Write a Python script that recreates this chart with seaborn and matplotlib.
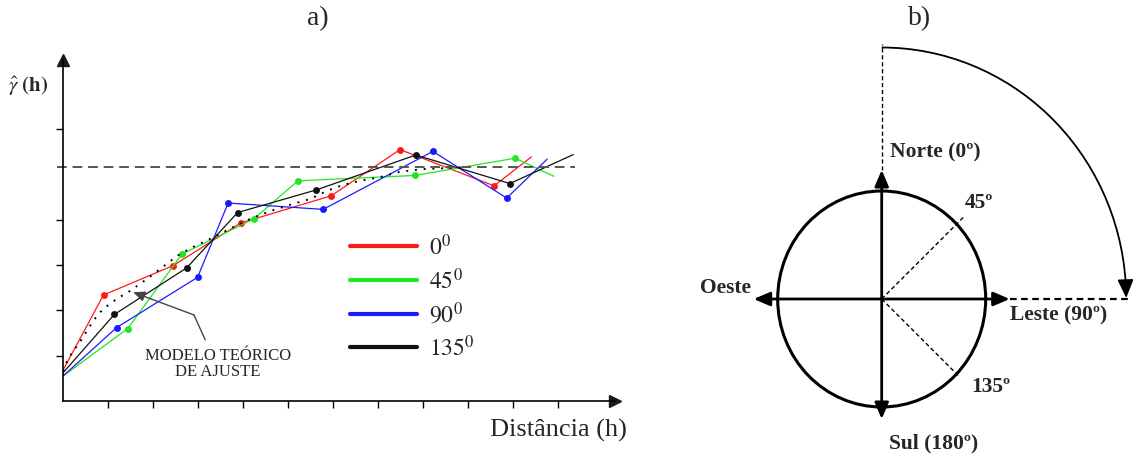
import matplotlib
matplotlib.use("Agg")
import numpy as np
import pandas as pd
import matplotlib.pyplot as plt
import seaborn as sns
from matplotlib.lines import Line2D
from matplotlib.patches import Arc, Ellipse

# painel a) semivariogramas direcionais (distância em nº de lags, gama em unidades de tick)
dist_0 = [0.00, 0.90, 2.45, 3.95, 5.96, 7.49, 9.58, 10.41]
gamma_0 = [0.68, 2.34, 2.99, 3.93, 4.53, 5.55, 4.75, 5.39]
dist_45 = [0.00, 1.44, 2.64, 4.24, 5.22, 7.83, 10.05, 10.91]
gamma_45 = [0.55, 1.60, 3.24, 4.02, 4.86, 4.98, 5.36, 4.96]
dist_90 = [0.00, 1.19, 2.99, 3.67, 5.78, 8.22, 9.86, 10.76]
gamma_90 = [0.55, 1.62, 2.73, 4.37, 4.23, 5.51, 4.48, 5.34]
dist_135 = [0.00, 1.14, 2.75, 3.88, 5.63, 7.84, 9.93, 11.34]
gamma_135 = [0.62, 1.91, 2.94, 4.16, 4.66, 5.43, 4.80, 5.44]

model_dist = [0.00, 0.11, 0.42, 0.67, 0.89, 1.19, 1.49, 1.86, 2.22, 2.53, 2.89, 3.27,
              3.71, 4.16, 4.60, 5.04, 5.49, 5.87, 6.22, 6.60, 7.04, 7.49, 8.00, 8.53, 9.04]
model_gamma = [0.66, 0.93, 1.37, 1.77, 2.03, 2.25, 2.43, 2.69, 2.96, 3.20, 3.40, 3.58,
               3.80, 4.02, 4.19, 4.33, 4.46, 4.64, 4.77, 4.86, 4.94, 5.06, 5.12, 5.14, 5.17]
sill = 5.17

directions = ["0", "45", "90", "135"]
colors = ["#ff1a1a", "#22e622", "#1a1aff", "#111111"]
legend_labels = [r"$0^0$", r"$45^0$", r"$90^0$", r"$135^0$"]

# painel b) rosa dos rumos
axis_bearings = [0, 90, 180, 270]
axis_lengths = [129, 128, 120, 128]
diag_bearings = [45, 135]
diag_lengths = [117, 108]
compass_texts = ["Norte (0º)", "45º", "Leste (90º)", "135º", "Sul (180º)", "Oeste"]
compass_text_pos = [(8, 148), (83, 97), (128, -15), (90, -87), (7, -143), (-182, 12)]

series = {"0": (dist_0, gamma_0), "45": (dist_45, gamma_45),
          "90": (dist_90, gamma_90), "135": (dist_135, gamma_135)}
rows = []
for d, (xs, ys) in series.items():
    for x, y in zip(xs, ys):
        rows.append({"dir": d, "dist": x, "gamma": y})
df = pd.DataFrame(rows)

sns.set_theme(style="white")
plt.rcParams["font.family"] = ["Liberation Serif", "DejaVu Serif"]
plt.rcParams["mathtext.fontset"] = "stix"

W, H = 1133, 456
fig = plt.figure(figsize=(W / 100, H / 100), dpi=100)


def px_box(x0, y0, x1, y1):
    return [x0 / W, 1 - y1 / H, (x1 - x0) / W, (y1 - y0) / H]


# ---------- a) ----------
ax = fig.add_axes(px_box(63, 61, 615, 402))
sns.lineplot(data=df, x="dist", y="gamma", hue="dir", hue_order=directions,
             palette=dict(zip(directions, colors)), marker="o", markersize=5,
             markeredgewidth=0, markevery=slice(1, -1), linewidth=0.9,
             estimator=None, sort=False, legend=False, ax=ax)
sns.lineplot(x=model_dist, y=model_gamma, color="black", linewidth=1.4,
             linestyle=(0, (1, 3.5)), estimator=None, sort=False, ax=ax)
ax.hlines(sill, -0.011, 0.928, transform=ax.get_yaxis_transform(), colors="#555555",
          linestyles=(0, (5, 3)), linewidth=1.4, clip_on=False)

ax.set_xlim(0, (615 - 63) / 45)
ax.set_ylim(0, (402 - 61) / 45.3)
ax.set_xticks(range(1, 12))
ax.set_yticks([1, 2, 3, 4, 6])
ax.tick_params(direction="out", length=5, width=1, color="black", bottom=True, left=True,
               labelbottom=False, labelleft=False)
ax.set_xlabel("")
ax.set_ylabel("")
for s in ["top", "right"]:
    ax.spines[s].set_visible(False)
for s in ["left", "bottom"]:
    ax.spines[s].set_color("black")
    ax.spines[s].set_linewidth(1.2)
ax.plot(1, 0, ">k", ms=8, transform=ax.transAxes, clip_on=False)
ax.plot(0, 1, "^k", ms=8, transform=ax.transAxes, clip_on=False)

handles = [Line2D([], [], color=c, lw=3) for c in colors]
ax.legend(handles, legend_labels, loc="upper left", bbox_to_anchor=(350 / W, 1 - 235 / H),
          bbox_transform=fig.transFigure, frameon=False, fontsize=17, handlelength=2.85,
          handletextpad=0.5, labelspacing=0.33, borderpad=0, borderaxespad=0)

ax.text(3.44, 0.84, "MODELO TEÓRICO\nDE AJUSTE", ha="center", va="center", fontsize=12,
        linespacing=1.05)
ax.plot([3.16, 2.91], [1.35, 1.90], color="#444444", lw=1)
ax.annotate("", xy=(1.56, 2.40), xytext=(2.91, 1.90),
            arrowprops=dict(arrowstyle="-|>,head_length=0.5,head_width=0.22", color="#444444",
                            lw=1, shrinkA=0, shrinkB=0, mutation_scale=14))

fig.text(627 / W, 1 - 430 / H, "Distância (h)", ha="right", va="center", fontsize=19)
fig.text(8 / W, 1 - 86 / H, r"$\hat{\gamma}$ $\mathbf{(h)}$", ha="left", va="center", fontsize=15)
fig.text(318 / W, 1 - 19 / H, "a)", ha="center", va="center", fontsize=20)

# ---------- b) ----------
cx, cy = 881.7, 300
ax2 = fig.add_axes(px_box(690, 0, W, H))
ax2.set_xlim(690 - cx, W - cx)
ax2.set_ylim(cy - H, cy)
ax2.axis("off")

ax2.add_patch(Ellipse((0, 0), 208, 216, fill=False, lw=2.2, color="black"))
for b, L in zip(axis_bearings, axis_lengths):
    tip = (L * np.sin(np.radians(b)), L * np.cos(np.radians(b)))
    ax2.annotate("", xy=tip, xytext=(0, 0),
                 arrowprops=dict(arrowstyle="-|>,head_length=0.7,head_width=0.3", color="black",
                                 lw=2, shrinkA=0, shrinkB=0, mutation_scale=14))
for b, L in zip(diag_bearings, diag_lengths):
    tip = (L * np.sin(np.radians(b)), L * np.cos(np.radians(b)))
    ax2.plot([0, tip[0]], [0, tip[1]], color="black", lw=1, linestyle=(0, (3, 2)))

ax2.plot([0, 0], [129, 255], color="black", lw=1, linestyle=(0, (3, 2)))
ax2.plot([128, 248], [0, 0], color="black", lw=1.6, linestyle=(0, (3, 2)))
ax2.add_patch(Arc((0, 0), 489, 503, theta1=4, theta2=90, lw=1.3, color="black"))
ax2.annotate("", xy=(244.5, 1), xytext=(243.9, 17.5),
             arrowprops=dict(arrowstyle="-|>,head_length=0.8,head_width=0.35", color="black",
                             lw=1.3, shrinkA=0, shrinkB=0, mutation_scale=14))

for t, (x, y) in zip(compass_texts, compass_text_pos):
    ax2.text(x, y, t, ha="left", va="center", fontsize=15.5, fontweight="bold")
fig.text(920 / W, 1 - 19 / H, "b)", ha="center", va="center", fontsize=20)

fig.savefig("out.png", dpi=100, facecolor="white")
